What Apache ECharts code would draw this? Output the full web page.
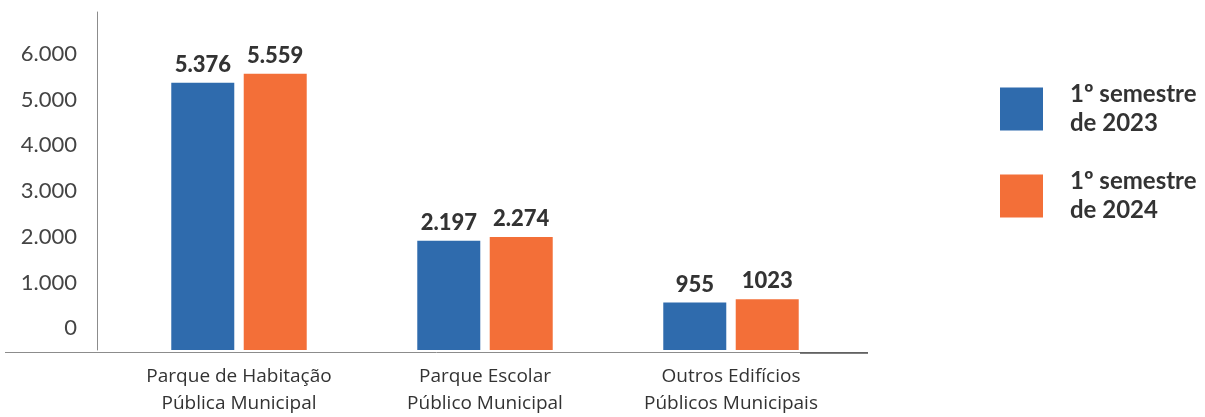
<!DOCTYPE html>
<html>
<head>
<meta charset="utf-8">
<script src="https://cdn.jsdelivr.net/npm/echarts@6/dist/echarts.min.js"></script>
<style>
  html, body { margin: 0; padding: 0; background: #ffffff; }
  #chart { width: 1205px; height: 417px; }
</style>
</head>
<body>
<div id="chart"></div>
<script>
// Building stock categories (x axis)
const categories = [
  'Parque de Habitação\nPública Municipal',
  'Parque Escolar\nPúblico Municipal',
  'Outros Edifícios\nPúblicos Municipais'
];

// Series names and values
const seriesNames = ['1º semestre de 2023', '1º semestre de 2024'];
const values2023 = [5376, 2197, 955];
const values2024 = [5559, 2274, 1023];

// Tick labels shown on the vertical scale
const tickValues = [0, 1000, 2000, 3000, 4000, 5000, 6000];

// Value labels as printed above the bars
const valueLabels2023 = ['5.376', '2.197', '955'];
const valueLabels2024 = ['5.559', '2.274', '1023'];

const BLUE = '#2f6bad';
const ORANGE = '#f36f38';
const TEXT = '#333333';

// Portuguese thousands separator
const fmtPt = v => String(Math.round(v)).replace(/\B(?=(\d{3})+(?!\d))/g, '.');

const chart = echarts.init(document.getElementById('chart'));

const barLabel = (texts) => ({
  show: true,
  position: 'top',
  distance: 7,
  color: TEXT,
  fontFamily: 'Lato',
  fontWeight: 900,
  fontSize: 22,
  formatter: p => texts[p.dataIndex]
});

chart.setOption({
  animation: false,
  backgroundColor: '#ffffff',
  grid: { left: 116, right: 351, top: 12, bottom: 65 },
  legend: {
    orient: 'vertical',
    left: 995,
    top: 75,
    itemWidth: 43,
    itemHeight: 43,
    itemGap: 29,
    icon: 'rect',
    data: seriesNames,
    formatter: name => name.replace(' de ', '\nde '),
    textStyle: {
      color: TEXT,
      fontFamily: 'Lato',
      fontWeight: 'bold',
      fontSize: 24,
      lineHeight: 29,
      padding: [0, 0, 0, 22]
    }
  },
  xAxis: {
    type: 'category',
    data: categories,
    axisLine: { show: false },
    axisTick: { show: false },
    axisLabel: {
      color: TEXT,
      fontFamily: 'Open Sans',
      fontSize: 19,
      lineHeight: 27,
      margin: 13
    }
  },
  yAxis: [
    {
      // scale for the bars
      type: 'value',
      min: 0,
      max: 6800,
      show: false
    },
    {
      // scale carrying the printed tick labels
      type: 'value',
      min: -479,
      max: 6918,
      position: 'left',
      offset: 19,
      splitLine: { show: false },
      axisTick: { show: false },
      axisLine: { show: true, lineStyle: { color: '#8c8c8c', width: 1 } },
      axisLabel: {
        customValues: tickValues,
        formatter: v => fmtPt(v),
        color: '#444444',
        fontFamily: 'Lato',
        fontSize: 22,
        margin: 20
      }
    }
  ],
  series: [
    {
      name: seriesNames[0],
      type: 'bar',
      yAxisIndex: 0,
      data: values2023,
      barWidth: 63,
      barGap: '15%',
      itemStyle: { color: BLUE },
      label: barLabel(valueLabels2023)
    },
    {
      name: seriesNames[1],
      type: 'bar',
      yAxisIndex: 0,
      data: values2024,
      barWidth: 63,
      barGap: '15%',
      itemStyle: { color: ORANGE },
      label: barLabel(valueLabels2024)
    }
  ],
  graphic: [
    {
      type: 'line',
      shape: { x1: 5, y1: 352.5, x2: 868, y2: 352.5 },
      style: { stroke: '#8c8c8c', lineWidth: 1 },
      z: 10
    },
    {
      type: 'line',
      shape: { x1: 800, y1: 353, x2: 868, y2: 353 },
      style: { stroke: '#555555', lineWidth: 1.5 },
      z: 11
    }
  ]
});
</script>
</body>
</html>
